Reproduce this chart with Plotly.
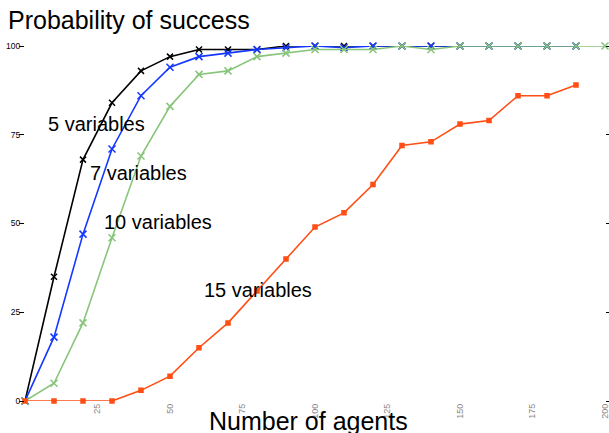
import plotly.graph_objects as go

agents = [0, 10, 20, 30, 40, 50, 60, 70, 80, 90, 100, 110, 120, 130, 140, 150, 160, 170, 180, 190, 200]
v5 = [0, 35, 68, 84, 93, 97, 99, 99, 99, 100, 100, 100, 100, 100, 100, 100, 100, 100, 100, 100]
v7 = [0, 18, 47, 71, 86, 94, 97, 98, 99, 99.5, 100, 99.5, 100, 100, 100, 100, 100, 100, 100, 100]
v10 = [0, 5, 22, 46, 69, 83, 92, 93, 97, 98, 99, 99, 99, 100, 99, 100, 100, 100, 100, 100, 100]
v15 = [0, 0, 0, 0, 3, 7, 15, 22, 31, 40, 49, 53, 61, 72, 73, 78, 79, 86, 86, 89]

series = [
    ("5 variables", v5, "#000000", "x-thin", 6),
    ("7 variables", v7, "#1438ff", "x-thin", 7),
    ("10 variables", v10, "#88c57a", "x-thin", 7),
    ("15 variables", v15, "#ff4e14", "square", 4),
]
label_pos = {
    "5 variables": (24.8, 78),
    "7 variables": (39.3, 64.2),
    "10 variables": (45.9, 50.4),
    "15 variables": (80.3, 31.3),
}
xticks = [25, 50, 75, 100, 125, 150, 175, 200]
yticks = [0, 25, 50, 75, 100]

FONT = "Liberation Sans, Arial, sans-serif"
W, H = 609, 433
fig = go.Figure()
for name, vals, color, sym, sz in series:
    fig.add_trace(go.Scatter(
        x=agents[:len(vals)], y=vals, mode="lines+markers", name=name,
        line=dict(color=color, width=1.6),
        marker=dict(symbol=sym, size=sz, color=color, line=dict(color=color, width=1.5)),
        cliponaxis=False, showlegend=False,
    ))
for name, (lx, ly) in label_pos.items():
    fig.add_annotation(x=lx, y=ly, text=name, showarrow=False,
                       font=dict(family=FONT, size=20, color="#000"),
                       xanchor="center", yanchor="middle")

fig.add_annotation(xref="paper", yref="paper", x=(308 - 25) / 580, y=(401 - 421) / 355,
                   text="Number of agents", showarrow=False,
                   font=dict(family=FONT, size=25, color="#000"),
                   xanchor="center", yanchor="middle")

fig.update_layout(
    width=W, height=H,
    margin=dict(l=25, r=4, t=46, b=32, autoexpand=False),
    paper_bgcolor="white", plot_bgcolor="white",
    title=dict(text="Probability of success", x=8 / W, xanchor="left",
               y=1 - 20 / H, yanchor="middle", automargin=False,
               font=dict(family=FONT, size=25, color="#000")),
    xaxis=dict(range=[0, 200], tickvals=xticks, ticktext=[str(t) for t in xticks],
               tickangle=-90, showgrid=False, zeroline=False, showline=False,
               automargin=False, ticklabeloverflow="allow",
               ticks="", tickfont=dict(family=FONT, size=9, color="#888")),
    yaxis=dict(range=[0, 100], tickvals=yticks, ticktext=[str(t) for t in yticks],
               showgrid=False, zeroline=False, showline=False, automargin=False,
               ticklabeloverflow="allow", ticklabelstandoff=-3,
               ticks="outside", ticklen=5, tickcolor="#000", mirror="ticks",
               tickfont=dict(family=FONT, size=8.5, color="#000")),
)
fig.write_html(
    "out.html",
    config={"displayModeBar": False},
    post_script="document.body.style.margin='0';document.body.style.overflow='hidden';",
)
